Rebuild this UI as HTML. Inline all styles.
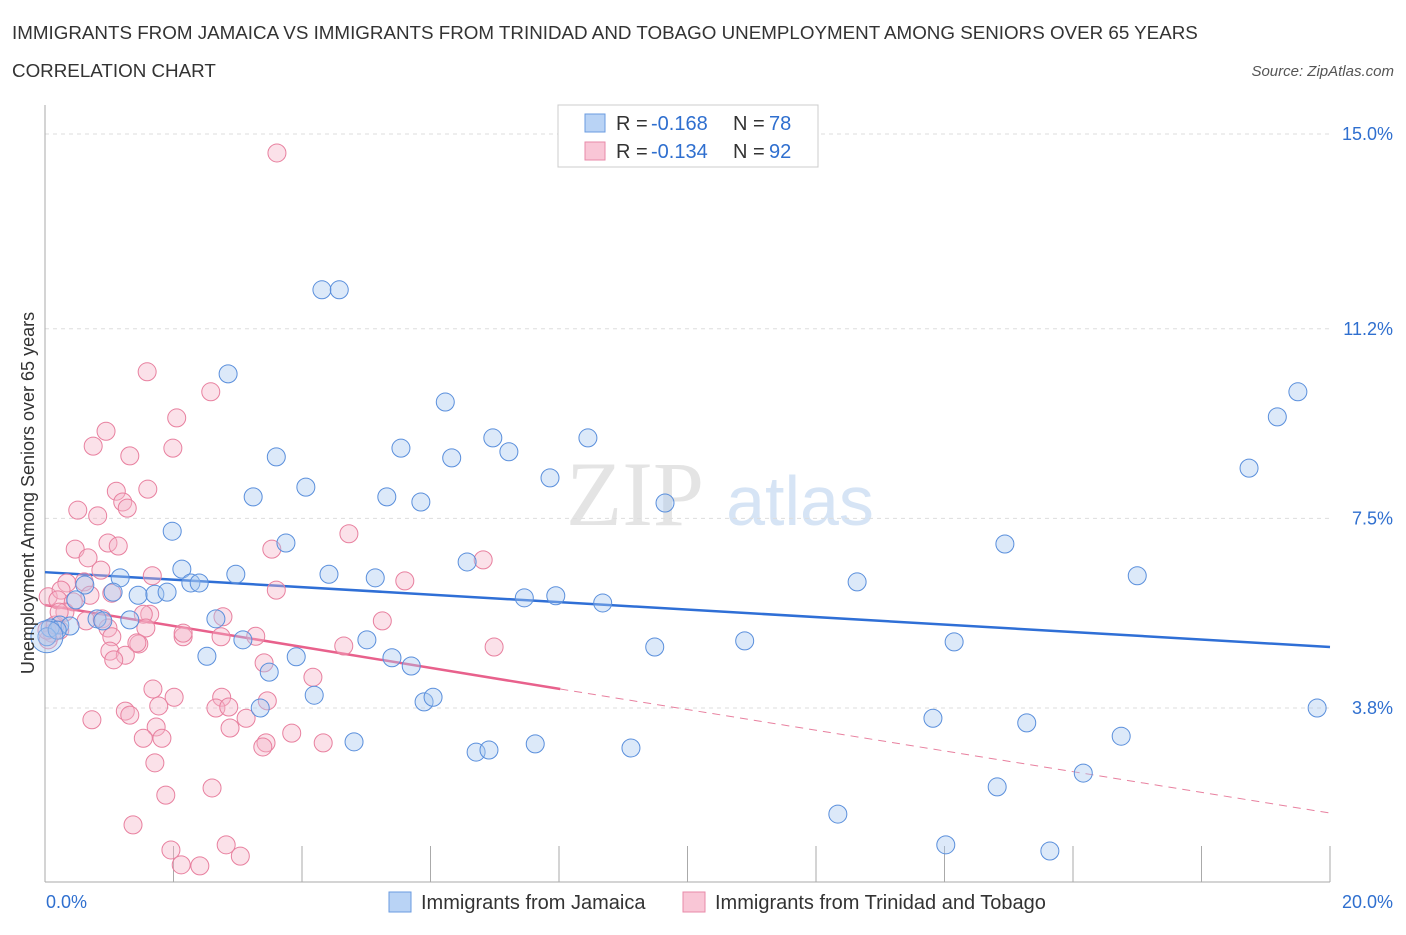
<!DOCTYPE html>
<html><head><meta charset="utf-8"><style>
body{margin:0;background:#fff;font-family:"Liberation Sans",sans-serif;}
</style></head><body>
<svg id="chart" width="1406" height="930" xmlns="http://www.w3.org/2000/svg" style="font-family:'Liberation Sans',sans-serif">
<text x="12" y="39" font-size="18.8" fill="#333">IMMIGRANTS FROM JAMAICA VS IMMIGRANTS FROM TRINIDAD AND TOBAGO UNEMPLOYMENT AMONG SENIORS OVER 65 YEARS</text>
<text x="12" y="77" font-size="18.8" fill="#333">CORRELATION CHART</text>
<text x="1394" y="76" font-size="15" fill="#555" font-style="italic" text-anchor="end">Source: ZipAtlas.com</text>
<text x="635" y="525" font-size="92" fill="#e4e4e4" text-anchor="middle" font-family="'Liberation Serif',serif">ZIP</text>
<text x="800" y="525" font-size="70" fill="#d6e4f5" text-anchor="middle">atlas</text>
<g id="grid"></g><g id="axes"></g><g id="trend"></g><g id="pts"></g>
<g>
<rect x="558" y="105" width="260" height="62" fill="#fff" stroke="#ccc"/>
<rect x="585" y="114" width="20" height="18" fill="#b9d3f5" stroke="#6a9be0"/>
<text x="616" y="130" font-size="20" fill="#333">R = </text><text x="651" y="130" font-size="20" fill="#2f6fcf">-0.168</text>
<text x="733" y="130" font-size="20" fill="#333">N = </text><text x="769" y="130" font-size="20" fill="#2f6fcf">78</text>
<rect x="585" y="142" width="20" height="18" fill="#f9c6d6" stroke="#e88aa8"/>
<text x="616" y="158" font-size="20" fill="#333">R = </text><text x="651" y="158" font-size="20" fill="#2f6fcf">-0.134</text>
<text x="733" y="158" font-size="20" fill="#333">N = </text><text x="769" y="158" font-size="20" fill="#2f6fcf">92</text>
</g>
<g>
<rect x="389" y="892" width="22" height="20" fill="#b9d3f5" stroke="#6a9be0"/>
<text x="421" y="909" font-size="20" fill="#333">Immigrants from Jamaica</text>
<rect x="683" y="892" width="22" height="20" fill="#f9c6d6" stroke="#e88aa8"/>
<text x="715" y="909" font-size="20" fill="#333">Immigrants from Trinidad and Tobago</text>
</g>
<text x="46" y="908" font-size="18" fill="#2f6fcf">0.0%</text>
<text x="1393" y="908" font-size="18" fill="#2f6fcf" text-anchor="end">20.0%</text>
<text transform="translate(34,493) rotate(-90)" font-size="18" fill="#333" text-anchor="middle">Unemployment Among Seniors over 65 years</text>
</svg>
<script>
const yTicks=[15.0,11.2,7.5,3.8];
const yTickLabels=["15.0%","11.2%","7.5%","3.8%"];
const xTicks=[0,2,4,6,8,10,12,14,16,18,20];
const jamX=[2.85,4.31,4.58,6.23,19.50,19.18,6.97,8.45,5.54,3.60,6.33,7.22,18.74,7.86,3.24,4.06,5.32,5.85,9.65,1.98,3.75,14.94,6.57,2.13,2.97,4.42,5.14,12.64,17.00,1.17,2.27,2.40,0.62,1.06,1.45,1.71,1.90,0.48,7.46,7.95,8.68,2.66,1.32,0.81,0.90,0.23,0.39,0.08,3.08,5.01,10.89,14.15,9.49,2.52,3.91,5.40,5.70,3.49,4.19,5.90,6.04,3.35,19.80,13.82,15.28,16.75,4.81,7.63,6.71,6.91,9.12,16.16,14.82,12.34,14.02,15.64,0.03,0.19];
const jamY=[10.32,11.96,11.96,9.77,9.97,9.48,9.07,9.07,8.87,8.70,8.68,8.80,8.48,8.29,7.92,8.11,7.92,7.82,7.80,7.25,7.02,7.00,6.65,6.51,6.41,6.41,6.34,6.26,6.38,6.34,6.24,6.24,6.20,6.06,6.00,6.02,6.06,5.91,5.95,5.99,5.85,5.54,5.52,5.54,5.50,5.42,5.40,5.36,5.13,5.13,5.11,5.09,4.99,4.81,4.80,4.78,4.62,4.50,4.05,3.92,4.01,3.80,3.80,3.60,3.51,3.25,3.14,3.10,2.94,2.98,3.02,2.53,2.26,1.73,1.13,1.01,5.19,5.32];
const triX=[3.61,1.59,2.58,2.05,0.95,0.75,1.99,1.32,1.60,1.11,1.21,1.28,0.51,0.82,4.73,0.47,0.98,1.14,0.67,6.82,3.53,0.87,1.67,5.60,0.34,0.61,3.60,0.05,0.25,1.04,0.70,0.20,0.44,1.63,1.53,2.77,5.25,0.64,0.89,0.98,0.23,0.11,1.04,1.57,2.74,3.28,2.15,0.05,4.65,6.99,1.46,2.15,1.01,1.43,1.25,1.07,3.41,4.17,1.68,2.75,2.01,3.46,2.66,2.86,1.77,1.25,1.32,0.73,3.13,1.73,2.88,1.53,1.82,3.84,4.33,3.44,3.39,1.71,2.60,1.88,1.37,1.96,3.04,2.82,2.12,2.41,0.03,0.16,0.31,0.22];
const triY=[14.63,10.36,9.97,9.46,9.20,8.91,8.87,8.72,8.07,8.03,7.82,7.70,7.66,7.55,7.20,6.90,7.02,6.96,6.73,6.69,6.90,6.49,6.38,6.28,6.24,6.26,6.10,5.97,6.10,6.04,6.00,5.91,5.87,5.63,5.63,5.58,5.50,5.50,5.54,5.36,5.32,5.26,5.19,5.36,5.19,5.20,5.19,5.13,5.01,4.99,5.05,5.26,4.91,5.07,4.83,4.74,4.68,4.40,4.17,4.01,4.01,3.94,3.80,3.82,3.84,3.74,3.66,3.57,3.60,3.43,3.41,3.21,3.21,3.31,3.12,3.12,3.04,2.73,2.24,2.10,1.52,1.03,0.91,1.13,0.74,0.72,5.32,5.42,5.67,5.67];
const jamTrendX=[0,20], jamTrendY=[6.45,4.99];
const triTrendX=[0,8.02,20], triTrendY=[5.81,4.17,1.75];

const NS="http://www.w3.org/2000/svg";
const X0=45,X1=1330,Y0=902.75,PPY=51.25;
const xs=v=>X0+(X1-X0)*v/20;
const ys=v=>Y0-v*PPY;
function mk(tag,attrs,parent){const e=document.createElementNS(NS,tag);for(const k in attrs)e.setAttribute(k,attrs[k]);document.getElementById(parent).appendChild(e);return e;}
yTicks.forEach((t,i)=>{
 const l=mk('line',{x1:X0,x2:X1,y1:ys(t),y2:ys(t),stroke:'#ddd','stroke-dasharray':'4,4'},'grid');
 
 
 const tx=mk('text',{x:1393,y:ys(t)+6,'font-size':18,fill:'#2f6fcf','text-anchor':'end'},'grid');
 tx.textContent=yTickLabels[i];
 
 
});
const ya=mk('line',{x1:X0,x2:X0,y1:105,y2:882,stroke:'#aaa'},'axes');


const xa=mk('line',{x1:X0,x2:X1,y1:882,y2:882,stroke:'#aaa'},'axes');


xTicks.forEach(t=>{
 const l=mk('line',{x1:xs(t),x2:xs(t),y1:846,y2:882,stroke:'#aaa'},'axes');
 
 
});
function pts(X,Y,fill,stroke,name){
 X.forEach((v,i)=>{
  const c=mk('circle',{cx:xs(v),cy:ys(Y[i]),r:9,fill:fill,'fill-opacity':0.4,stroke:stroke,'stroke-width':1},'pts');
  
  
 });
}
pts(triX,triY,'#f5b3c8','#e8809f','point-trinidad');
pts(jamX,jamY,'#a8c8f0','#5a8fdc','point-jamaica');
const big=mk('circle',{cx:xs(jamX[76]),cy:ys(jamY[76]),r:16,fill:'#a8c8f0','fill-opacity':0.4,stroke:'#5a8fdc'},'pts');


const bl=mk('line',{x1:xs(jamTrendX[0]),y1:ys(jamTrendY[0]),x2:xs(jamTrendX[1]),y2:ys(jamTrendY[1]),stroke:'#2f6fd6','stroke-width':2.5},'trend');


const pl=mk('line',{x1:xs(triTrendX[0]),y1:ys(triTrendY[0]),x2:xs(triTrendX[1]),y2:ys(triTrendY[1]),stroke:'#e8618c','stroke-width':2.5},'trend');


const pd=mk('line',{x1:xs(triTrendX[1]),y1:ys(triTrendY[1]),x2:xs(triTrendX[2]),y2:ys(triTrendY[2]),stroke:'#e8809f','stroke-width':1,'stroke-dasharray':'8,6'},'trend');


</script>
</body></html>
